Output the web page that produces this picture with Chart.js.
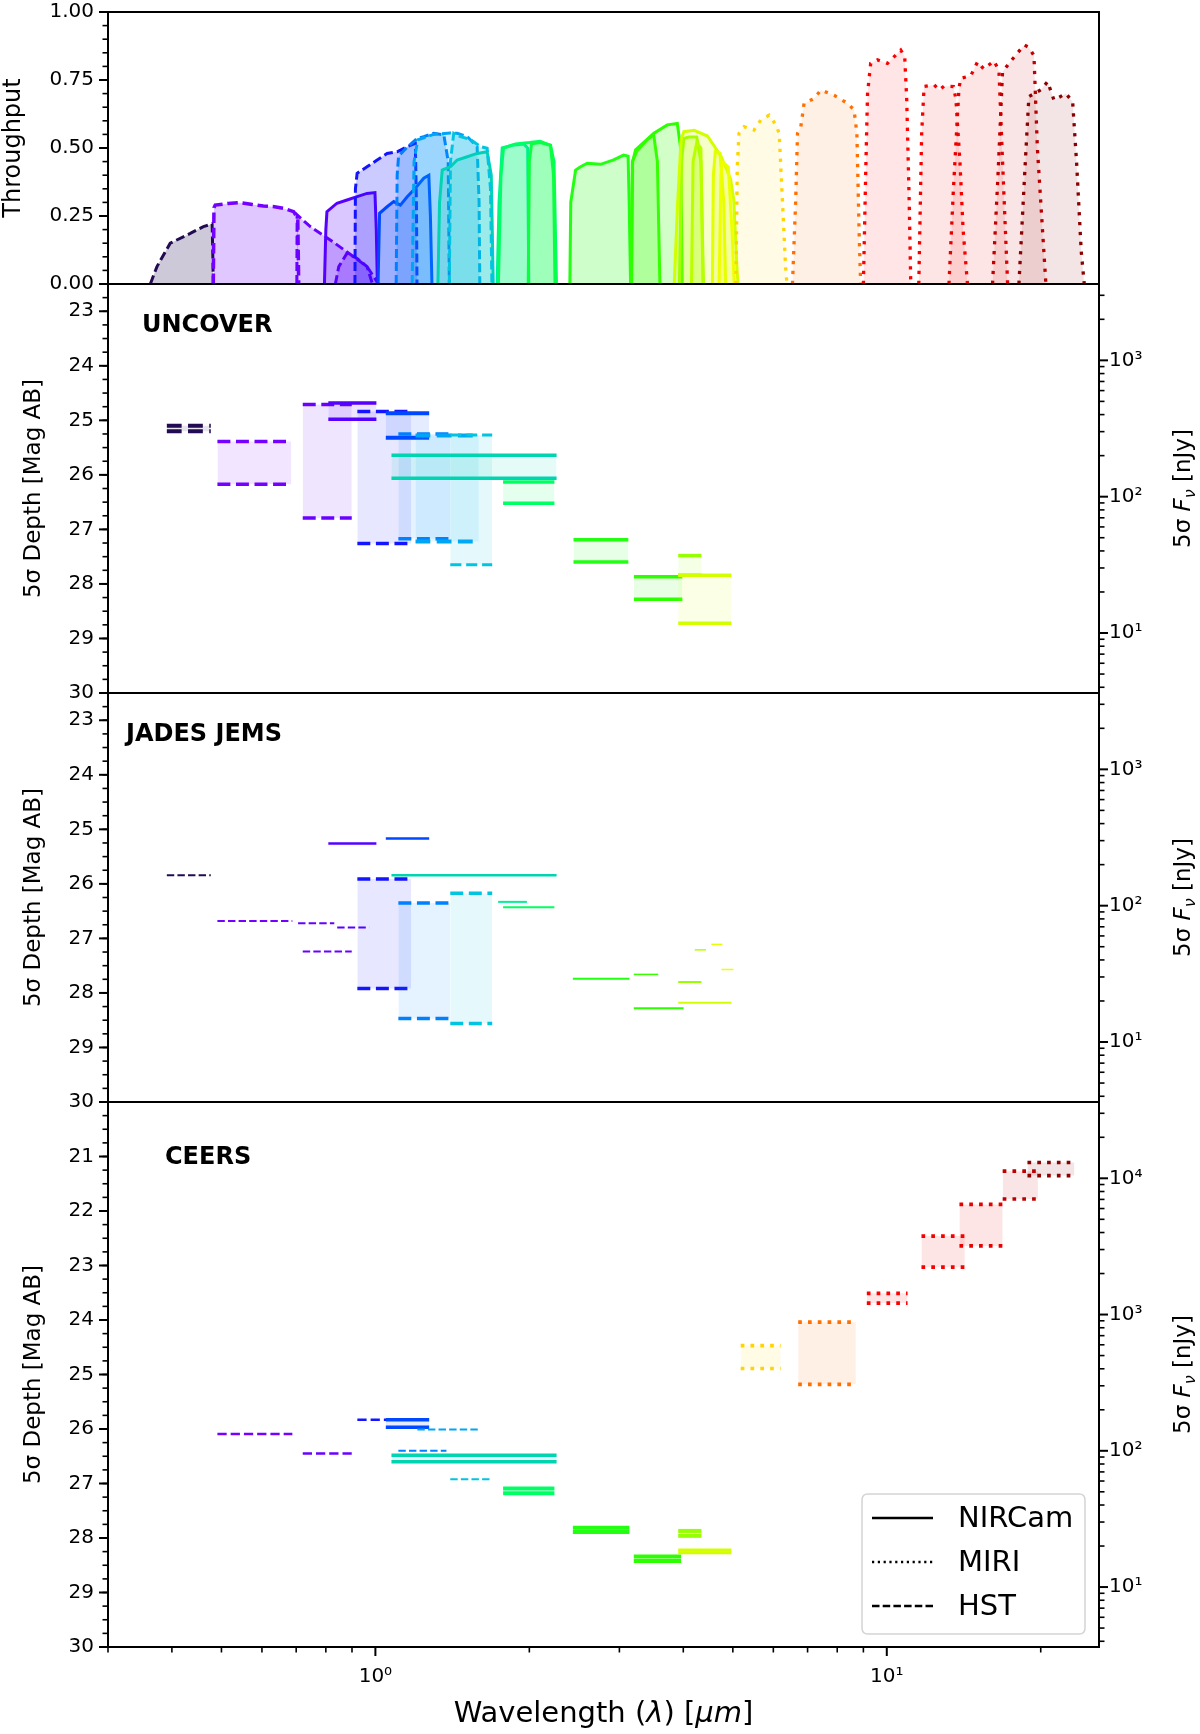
<!DOCTYPE html>
<html><head><meta charset="utf-8">
<script src="https://cdn.jsdelivr.net/npm/chart.js@4.4.1/dist/chart.umd.min.js"></script>
<style>
html,body{margin:0;padding:0;background:#fff;width:1200px;height:1734px;overflow:hidden;position:relative}
canvas{position:absolute;left:0}
</style></head><body>
<canvas id="c1" width="1200" height="340" style="top:-20px;width:1200px;height:340px"></canvas>
<canvas id="c2" width="1200" height="480" style="top:250px;width:1200px;height:480px"></canvas>
<canvas id="c3" width="1200" height="480" style="top:659px;width:1200px;height:480px"></canvas>
<canvas id="c4" width="1200" height="666" style="top:1068px;width:1200px;height:666px"></canvas>
<script>
// ---------------- DATA ----------------
const WAVE_MIN = 0.3, WAVE_MAX = 26;
const ZP_NJY = 31.4;
const MAG_BOTTOM = 30;

// throughput curves: [wavelength (um), throughput]
const thr_F435W = [[0.363,0],[0.374,0.064],[0.397,0.15],[0.4345,0.186],[0.461,0.211],[0.4795,0.221],[0.481,0.1],[0.482,0]];
const thr_F606W = [[0.482,0],[0.4834,0.28],[0.4862,0.29],[0.515,0.296],[0.544,0.299],[0.575,0.292],[0.604,0.287],[0.635,0.284],[0.661,0.278],[0.692,0.266],[0.705,0.24],[0.708,0]];
const thr_F814W = [[0.702,0],[0.703,0.254],[0.746,0.211],[0.816,0.162],[0.907,0.10],[0.963,0.064],[1.014,0]];
const thr_F850LP = [[0.835,0],[0.848,0.064],[0.88,0.113],[0.921,0.094],[0.963,0.064],[0.987,0]];
const thr_F090W = [[0.795,0],[0.80,0.2],[0.804,0.266],[0.841,0.297],[0.88,0.309],[0.921,0.321],[0.963,0.333],[0.998,0.336],[1.004,0.2],[1.009,0]];
const thr_F105W = [[0.912,0],[0.914,0.35],[0.921,0.407],[0.963,0.431],[1.008,0.456],[1.054,0.48],[1.103,0.486],[1.154,0.505],[1.197,0.517],[1.203,0.3],[1.206,0]];
const thr_F115W = [[1.012,0],[1.019,0.26],[1.054,0.284],[1.086,0.303],[1.119,0.29],[1.154,0.321],[1.197,0.352],[1.243,0.389],[1.272,0.40],[1.281,0.25],[1.29,0]];
const thr_F125W = [[1.098,0],[1.103,0.4],[1.11,0.47],[1.15,0.5],[1.206,0.535],[1.243,0.542],[1.30,0.554],[1.361,0.548],[1.388,0.45],[1.395,0]];
const thr_F140W = [[1.18,0],[1.19,0.45],[1.21,0.53],[1.30,0.55],[1.40,0.555],[1.445,0.554],[1.512,0.542],[1.581,0.505],[1.595,0.3],[1.60,0]];
const thr_F150W = [[1.325,0],[1.335,0.3],[1.351,0.419],[1.402,0.431],[1.445,0.456],[1.512,0.468],[1.581,0.48],[1.654,0.486],[1.685,0.4],[1.70,0]];
const thr_F160W = [[1.395,0],[1.402,0.45],[1.423,0.554],[1.467,0.542],[1.534,0.531],[1.605,0.505],[1.654,0.499],[1.679,0.35],[1.69,0]];
const thr_F182M = [[1.73,0],[1.745,0.3],[1.77,0.5],[1.85,0.51],[1.95,0.515],[1.985,0.5],[1.995,0]];
const thr_F200W = [[1.74,0],[1.76,0.4],[1.78,0.5],[1.88,0.515],[2.0,0.52],[2.1,0.525],[2.2,0.51],[2.235,0.45],[2.26,0]];
const thr_F210M = [[1.99,0],[2.0,0.45],[2.02,0.516],[2.1,0.52],[2.2,0.51],[2.23,0.4],[2.245,0]];
const thr_F277W = [[2.40,0],[2.41,0.3],[2.463,0.419],[2.519,0.431],[2.596,0.444],[2.756,0.44],[2.923,0.456],[3.057,0.474],[3.12,0.47],[3.135,0.3],[3.155,0]];
const thr_F335M = [[3.16,0],[3.18,0.45],[3.25,0.49],[3.4,0.53],[3.5,0.55],[3.56,0.45],[3.6,0]];
const thr_F356W = [[3.17,0],[3.184,0.45],[3.227,0.493],[3.504,0.554],[3.722,0.585],[3.894,0.59],[3.953,0.5],[3.982,0]];
const thr_F410M = [[3.93,0],[3.97,0.45],[4.01,0.535],[4.1,0.54],[4.25,0.54],[4.33,0.45],[4.38,0]];
const thr_F430M = [[4.15,0],[4.18,0.45],[4.25,0.52],[4.33,0.5],[4.37,0]];
const thr_F444W = [[3.84,0],[3.9,0.3],[3.96,0.53],[4.01,0.56],[4.20,0.565],[4.46,0.544],[4.74,0.47],[4.95,0.385],[5.02,0.31],[5.10,0.04],[5.12,0]];
const thr_F460M = [[4.56,0],[4.58,0.4],[4.62,0.486],[4.72,0.48],[4.80,0.3],[4.84,0]];
const thr_F480M = [[4.70,0],[4.74,0.4],[4.77,0.45],[4.90,0.43],[4.98,0.2],[5.03,0]];
const thr_F560W = [[5.07,0],[5.10,0.43],[5.14,0.554],[5.26,0.578],[5.50,0.566],[5.67,0.603],[5.89,0.621],[6.07,0.585],[6.16,0.554],[6.25,0.309],[6.34,0.064],[6.38,0]];
const thr_F770W = [[6.54,0],[6.636,0.309],[6.69,0.554],[6.79,0.578],[6.89,0.664],[7.21,0.682],[7.43,0.713],[7.89,0.694],[8.38,0.664],[8.63,0.640],[8.74,0.554],[8.83,0.186],[8.89,0]];
const thr_F1000W = [[9.00,0],[9.10,0.431],[9.17,0.701],[9.30,0.811],[9.59,0.824],[10.03,0.811],[10.65,0.86],[10.84,0.836],[10.94,0.676],[11.06,0.309],[11.14,0]];
const thr_F1280W = [[11.55,0],[11.70,0.554],[11.83,0.726],[12.38,0.732],[12.66,0.713],[12.95,0.728],[13.50,0.726],[13.65,0.68],[13.9,0.45],[14.1,0.2],[14.38,0]];
const thr_F1500W = [[13.23,0],[13.5,0.35],[13.84,0.72],[13.96,0.756],[14.6,0.766],[15.05,0.817],[15.48,0.79],[16.2,0.82],[16.57,0.785],[16.8,0.5],[17.23,0]];
const thr_F1800W = [[16.1,0],[16.5,0.4],[16.84,0.78],[17.49,0.82],[18.57,0.879],[18.96,0.87],[19.4,0.84],[19.7,0.5],[20.47,0]];
const thr_F2100W = [[18.13,0],[18.6,0.4],[18.96,0.689],[20.01,0.714],[20.63,0.744],[21.23,0.676],[22.4,0.70],[23.09,0.67],[23.5,0.45],[24.0,0.12],[24.33,0]];

const throughputFilters = ['F435W','F606W','F814W','F850LP','F090W','F105W','F115W','F125W','F140W','F150W','F160W','F182M','F200W','F210M','F277W','F335M','F356W','F410M','F430M','F444W','F460M','F480M','F560W','F770W','F1000W','F1280W','F1500W','F1800W','F2100W'];
const throughputCurves = {F435W:thr_F435W,F606W:thr_F606W,F814W:thr_F814W,F850LP:thr_F850LP,F090W:thr_F090W,F105W:thr_F105W,F115W:thr_F115W,F125W:thr_F125W,F140W:thr_F140W,F150W:thr_F150W,F160W:thr_F160W,F182M:thr_F182M,F200W:thr_F200W,F210M:thr_F210M,F277W:thr_F277W,F335M:thr_F335M,F356W:thr_F356W,F410M:thr_F410M,F430M:thr_F430M,F444W:thr_F444W,F460M:thr_F460M,F480M:thr_F480M,F560W:thr_F560W,F770W:thr_F770W,F1000W:thr_F1000W,F1280W:thr_F1280W,F1500W:thr_F1500W,F1800W:thr_F1800W,F2100W:thr_F2100W};

// UNCOVER depths
const uncoverFilters = ['F435W','F606W','F814W','F090W','F105W','F115W','F125W','F140W','F160W','F150W','F200W','F277W','F356W','F410M','F444W'];
const uncoverLo = [0.391,0.491,0.721,0.809,0.922,1.048,1.109,1.198,1.401,1.075,1.777,2.44,3.203,3.91,3.91];
const uncoverHi = [0.4765,0.685,0.899,1.0045,1.175,1.274,1.401,1.593,1.692,2.261,2.239,3.123,3.983,4.34,4.966];
const uncoverDepth1 = [25.10,25.39,24.71,24.68,24.84,24.87,25.25,25.28,25.27,25.64,26.13,27.19,27.87,27.48,27.84];
const uncoverDepth2 = [25.20,26.17,26.79,24.98,27.26,25.32,27.17,27.22,27.65,26.06,26.52,27.60,28.28,27.84,28.72];

// JADES JEMS depths
const jadesFilters = ['F435W','F606W','F775W','F814W','F850LP','F090W','F105W','F115W','F125W','F160W','F150W','F182M','F200W','F277W','F335M','F356W','F410M','F430M','F444W','F460M','F480M'];
const jadesLo = [0.391,0.491,0.706,0.721,0.842,0.809,0.922,1.048,1.109,1.401,1.075,1.738,1.777,2.433,3.201,3.201,3.91,4.212,3.91,4.539,4.748];
const jadesHi = [0.4765,0.688,0.831,0.899,0.972,1.0045,1.175,1.274,1.401,1.692,2.261,1.978,2.239,3.138,3.573,4.006,4.34,4.429,4.966,4.77,5.014];
const jadesDepth1 = [25.84,26.68,26.72,27.24,26.80,25.26,25.91,25.17,26.35,26.17,25.84,26.33,26.43,27.74,27.66,28.28,27.80,27.21,28.18,27.11,27.57];
const jadesDepth2 = [null,null,null,null,null,null,27.92,null,28.47,28.56,null,null,null,null,null,null,null,null,null,null,null];

// CEERS depths
const ceersFilters = ['F606W','F814W','F105W','F115W','F125W','F140W','F150W','F160W','F200W','F277W','F356W','F410M','F444W','F560W','F770W','F1000W','F1280W','F1500W','F1800W','F2100W'];
const ceersLo = [0.491,0.721,0.922,1.048,1.109,1.208,1.075,1.401,1.777,2.433,3.201,3.91,3.91,5.18,6.71,9.14,11.69,13.87,16.85,18.84];
const ceersHi = [0.688,0.899,1.199,1.274,1.377,1.593,2.261,1.692,2.239,3.138,3.96,4.34,4.966,6.20,8.70,10.98,14.21,16.85,19.75,23.28];
const ceersDepth1 = [26.09,26.45,25.83,25.83,26.40,26.01,26.48,26.92,27.09,27.81,28.34,27.87,28.22,24.47,24.04,23.51,22.46,21.88,21.27,21.11];
const ceersDepth2 = [null,null,null,25.97,null,null,26.60,null,27.18,27.89,28.42,27.96,28.27,24.89,25.18,23.69,23.03,22.64,21.78,21.35];

// tick values / labels
const throughputTicks = [0, 0.25, 0.5, 0.75, 1.0];
const magTicksShallow = [23,24,25,26,27,28,29,30];
const magTicksCeers = [21,22,23,24,25,26,27,28,29,30];
const fluxTicks = [10,100,1000,10000];
const waveTicks = [1,10];
const panelTitles = ['UNCOVER','JADES JEMS','CEERS'];
const legendLabels = ['NIRCam','MIRI','HST'];

// ---------------- STYLE ----------------
const HST_SET = ['F435W','F606W','F775W','F814W','F850LP','F105W','F125W','F140W','F160W'];
const MIRI_SET = ['F560W','F770W','F1000W','F1280W','F1500W','F1800W','F2100W'];
const filterColor = {
 F435W:'#220b52', F606W:'#7400ff', F775W:'#6600ff', F814W:'#6a00ff', F850LP:'#5a00ff',
 F090W:'#5600ff', F105W:'#1414ff', F115W:'#0048ff', F125W:'#0080ff', F140W:'#00a6f5',
 F160W:'#00c4e0', F150W:'#00d4b0', F182M:'#00ee96', F200W:'#00ff64', F210M:'#0aff40',
 F277W:'#22ff10', F335M:'#38ff00', F356W:'#2cff00', F410M:'#96ff00', F430M:'#b4ff00',
 F444W:'#d2ff00', F460M:'#e4ff00', F480M:'#f0ff00', F560W:'#ffd400', F770W:'#ff7000',
 F1000W:'#ff0000', F1280W:'#f80000', F1500W:'#e80000', F1800W:'#c00000', F2100W:'#8b0000'
};
const uncoverWidths = [4,3.5,3.5,3.5,3.5,4,3.5,4,3,3.5,3.5,3.5,3.5,3.5,3.5];
const jadesWidths = [2,2,2,2,2,2.5,3.5,2.5,3.5,3.5,2.5,2,2,2,1.5,2,2,1.5,2,1.5,1.5];
const ceersWidths = [2.5,2.5,2.5,3.5,2,2,3.5,2,4,4,4,4,3,3.7,3.7,3.7,3.7,3.7,3.7,3.7];

const FONT = 'DejaVu Sans';
Chart.defaults.font.family = FONT;
Chart.defaults.color = '#000';

function instrumentOf(f){ return HST_SET.includes(f) ? 'HST' : (MIRI_SET.includes(f) ? 'MIRI' : 'NIRCam'); }
function dashFor(inst, lw){
  if (inst === 'HST') return [3.7*lw, 1.6*lw];
  if (inst === 'MIRI') return [lw, 1.65*lw];
  return [];
}
function rgba(hex, a){
  const n = parseInt(hex.slice(1),16);
  return `rgba(${(n>>16)&255},${(n>>8)&255},${n&255},${a})`;
}
function magToFlux(m){ return Math.pow(10, (ZP_NJY - m)/2.5); }
const SUP = {'0':'\u2070','1':'\u00b9','2':'\u00b2','3':'\u00b3','4':'\u2074','5':'\u2075','-':'\u207b'};
function powLabel(v){ const e = Math.round(Math.log10(v)); return '10' + String(e).split('').map(c=>SUP[c]).join(''); }
function logMinor(min, max){
  const out = [];
  for (let d = Math.floor(Math.log10(min)); d <= Math.ceil(Math.log10(max)); d++)
    for (let k = 2; k <= 9; k++){ const v = k*Math.pow(10,d); if (v >= min*0.999 && v <= max*1.001) out.push(v); }
  return out;
}
function steps(a, b, s){ const out=[]; for (let v=a; v<=b+1e-9; v+=s) out.push(+v.toFixed(4)); return out; }

function drawRich(ctx, parts, cx, cy, rot, baseOff){
  ctx.save(); ctx.translate(cx, cy); ctx.rotate(rot);
  let total = 0;
  parts.forEach(p => { ctx.font = p.f; p.w = ctx.measureText(p.t).width; total += p.w; });
  let x = -total/2;
  ctx.fillStyle = '#000'; ctx.textBaseline = 'alphabetic'; ctx.textAlign = 'left';
  parts.forEach(p => { ctx.font = p.f; ctx.fillText(p.t, x, baseOff + (p.dy||0)); x += p.w; });
  ctx.restore();
}

function decorPlugin(cfg){
  return {
    id: 'decor',
    afterDraw(chart){
      const ctx = chart.ctx, a = chart.chartArea;
      const sx = chart.scales.x, sy = chart.scales.y, sr = chart.scales.yR;
      ctx.save();
      ctx.strokeStyle = '#000'; ctx.lineCap = 'butt';
      const seg = (x1,y1,x2,y2,w) => { ctx.lineWidth=w; ctx.beginPath(); ctx.moveTo(x1,y1); ctx.lineTo(x2,y2); ctx.stroke(); };
      cfg.leftMinor.forEach(v => { const p = sy.getPixelForValue(v); seg(a.left,p,a.left-5.5,p,1.6); });
      cfg.leftMajor.forEach(v => { const p = sy.getPixelForValue(v); seg(a.left,p,a.left-9,p,2); });
      if (sr){
        cfg.rightMinor.forEach(v => { const p = sr.getPixelForValue(v); seg(a.right,p,a.right+5.5,p,1.6); });
        cfg.rightMajor.forEach(v => { const p = sr.getPixelForValue(v); seg(a.right,p,a.right+9,p,2); });
      }
      if (cfg.bottomMajor){
        cfg.bottomMinor.forEach(v => { const p = sx.getPixelForValue(v); seg(p,a.bottom,p,a.bottom+5.5,1.6); });
        cfg.bottomMajor.forEach(v => { const p = sx.getPixelForValue(v); seg(p,a.bottom,p,a.bottom+9,2); });
      }
      ctx.lineWidth = 2;
      ctx.strokeRect(a.left, a.top, a.right-a.left, a.bottom-a.top);
      const cyMid = (a.top + a.bottom)/2;
      if (cfg.leftTitle) drawRich(ctx, cfg.leftTitle, cfg.leftTitleX, cyMid, -Math.PI/2, 0);
      if (cfg.rightTitle) drawRich(ctx, cfg.rightTitle, cfg.rightTitleX, cyMid, -Math.PI/2, 0);
      if (cfg.panelTitle){
        ctx.font = 'bold 24px ' + FONT; ctx.fillStyle = '#000'; ctx.textBaseline='alphabetic'; ctx.textAlign='left';
        ctx.fillText(cfg.panelTitle, a.left + cfg.titleDx, a.top + cfg.titleDy);
      }
      if (cfg.xTitle) drawRich(ctx, cfg.xTitle, (a.left+a.right)/2, cfg.xTitleY, 0, 0);
      if (cfg.legend){
        const L = cfg.legend;
        const x0 = L.x, y0 = L.y, w = L.w, h = L.h, r = 6;
        ctx.beginPath();
        ctx.moveTo(x0+r,y0); ctx.lineTo(x0+w-r,y0); ctx.quadraticCurveTo(x0+w,y0,x0+w,y0+r);
        ctx.lineTo(x0+w,y0+h-r); ctx.quadraticCurveTo(x0+w,y0+h,x0+w-r,y0+h);
        ctx.lineTo(x0+r,y0+h); ctx.quadraticCurveTo(x0,y0+h,x0,y0+h-r);
        ctx.lineTo(x0,y0+r); ctx.quadraticCurveTo(x0,y0,x0+r,y0); ctx.closePath();
        ctx.fillStyle = 'rgba(255,255,255,0.85)'; ctx.fill();
        ctx.strokeStyle = '#d4d4d4'; ctx.lineWidth = 1.5; ctx.stroke();
        const dashes = [[], [2.2,3.6], [7.5,3.2]];
        legendLabels.forEach((lab,i) => {
          const yy = y0 + 24 + i*44;
          ctx.strokeStyle = '#000'; ctx.lineWidth = 2.4; ctx.setLineDash(dashes[i]);
          ctx.beginPath(); ctx.moveTo(x0+10, yy); ctx.lineTo(x0+71, yy); ctx.stroke();
          ctx.setLineDash([]);
          ctx.fillStyle = '#000'; ctx.font = '29px ' + FONT; ctx.textBaseline = 'middle'; ctx.textAlign='left';
          ctx.fillText(lab, x0+96, yy+1);
        });
      }
      ctx.restore();
    }
  };
}

const commonOpts = {
  responsive: false, animation: false, events: [],
  plugins: { legend: {display:false}, tooltip: {enabled:false}, title:{display:false} },
};
function xScale(display){
  return {
    type:'logarithmic', min: WAVE_MIN, max: WAVE_MAX, bounds:'data', display: display,
    grid:{display:false, drawTicks:false}, border:{display:false},
    afterBuildTicks: s => { s.ticks = waveTicks.map(v=>({value:v})); },
    afterFit: s => { if (display) s.height = 87; },
    ticks:{ autoSkip:false, maxRotation:0, padding:18, font:{size:20, family:FONT}, color:'#000', callback: v => powLabel(v) }
  };
}

// ---------------- PANEL 1: throughput ----------------
(function(){
  const datasets = throughputFilters.map((f,i) => {
    const inst = instrumentOf(f);
    const lw = inst==='MIRI' ? 3.3 : (f==='F606W' ? 3.5 : 3);
    const dash = inst==='HST' ? [3*lw, 1.35*lw] : (inst==='MIRI' ? [lw, 2*lw] : []);
    return {
      type:'line', label:f,
      data: throughputCurves[f].map(p => ({x:p[0], y:p[1]})),
      borderColor: filterColor[f], borderWidth: lw, borderDash: dash,
      backgroundColor: rgba(filterColor[f], inst==='MIRI' ? 0.1 : 0.22),
      fill: 'origin', pointRadius: 0, tension: 0, order: -i
    };
  });
  new Chart(document.getElementById('c1'), {
    type:'line', data:{datasets},
    options: Object.assign({}, commonOpts, {
      layout:{ padding:{top:32, bottom:36, left:0, right:101} },
      scales:{
        x: xScale(false),
        y: { type:'linear', position:'left', min:0, max:1, bounds:'data',
             grid:{display:false, drawTicks:false}, border:{display:false},
             afterBuildTicks: s => { s.ticks = throughputTicks.map(v=>({value:v})); },
             afterFit: s => { s.width = 108; },
             ticks:{ autoSkip:false, padding:14, font:{size:20, family:FONT}, color:'#000', callback: v => Number(v).toFixed(2) } }
      }
    }),
    plugins:[ decorPlugin({
      leftMajor: throughputTicks, leftMinor: steps(0,1,0.05),
      leftTitle: [{t:'Throughput', f:'24px '+FONT}], leftTitleX: 20
    }) ]
  });
})();

// ---------------- DEPTH PANELS ----------------
function depthDatasets(filters, lo, hi, d1, d2, widths){
  const ds = [];
  filters.forEach((f,i) => {
    const col = filterColor[f], inst = instrumentOf(f), lw = widths[i];
    const base = { type:'line', borderColor: col, borderWidth: lw, borderDash: dashFor(inst, lw),
                   pointRadius: 0, tension: 0 };
    const ia = ds.length;
    ds.push(Object.assign({}, base, {
      data: [{x:lo[i], y:d1[i]}, {x:hi[i], y:d1[i]}],
      fill: d2[i] != null ? ia+1 : false, backgroundColor: rgba(col, 0.1), order: -ia
    }));
    if (d2[i] != null){
      ds.push(Object.assign({}, base, {
        data: [{x:lo[i], y:d2[i]}, {x:hi[i], y:d2[i]}], fill:false, order: -(ia+1)
      }));
    }
  });
  return ds;
}

function depthChart(id, magTop, magTicks, filters, lo, hi, d1, d2, widths, title, tdx, tdy, isBottom){
  const fmin = magToFlux(MAG_BOTTOM), fmax = magToFlux(magTop);
  const rMaj = fluxTicks.filter(v => v >= fmin && v <= fmax);
  const cfg = {
    leftMajor: magTicks, leftMinor: steps(magTop, MAG_BOTTOM, 0.25),
    rightMajor: rMaj, rightMinor: logMinor(fmin, fmax),
    leftTitle: [{t:'5\u03c3 Depth [Mag AB]', f:'23px '+FONT}], leftTitleX: 40,
    rightTitle: [{t:'5\u03c3 ', f:'23px '+FONT},{t:'F', f:'italic 23px '+FONT},{t:'\u03bd', f:'italic 16px '+FONT, dy:5},{t:' [nJy]', f:'23px '+FONT}],
    rightTitleX: 1190,
    panelTitle: title, titleDx: tdx, titleDy: tdy
  };
  if (isBottom){
    cfg.bottomMajor = waveTicks;
    cfg.bottomMinor = logMinor(WAVE_MIN, WAVE_MAX).filter(v => waveTicks.indexOf(v) < 0);
    cfg.xTitle = [{t:'Wavelength (', f:'29px '+FONT},{t:'\u03bb', f:'italic 29px '+FONT},{t:') [', f:'29px '+FONT},{t:'\u03bcm', f:'italic 29px '+FONT},{t:']', f:'29px '+FONT}];
    cfg.xTitleY = 1722 - 1068;
    cfg.legend = { x:862, y:1494-1068, w:223, h:140 };
  }
  new Chart(document.getElementById(id), {
    type:'line',
    data:{ datasets: depthDatasets(filters, lo, hi, d1, d2, widths) },
    options: Object.assign({}, commonOpts, {
      layout:{ padding:{top:34, bottom: isBottom ? 0 : 37, left:0, right:0} },
      scales:{
        x: xScale(isBottom),
        y: { type:'linear', position:'left', min: magTop, max: MAG_BOTTOM, reverse:true, bounds:'data',
             grid:{display:false, drawTicks:false}, border:{display:false},
             afterBuildTicks: s => { s.ticks = magTicks.map(v=>({value:v})); },
             afterFit: s => { s.width = 108; },
             ticks:{ autoSkip:false, padding:14, font:{size:20, family:FONT}, color:'#000', callback: v => String(v) } },
        yR:{ type:'logarithmic', position:'right', min: fmin, max: fmax, bounds:'data',
             grid:{display:false, drawTicks:false}, border:{display:false},
             afterBuildTicks: s => { s.ticks = rMaj.map(v=>({value:v})); },
             afterFit: s => { s.width = 101; },
             ticks:{ autoSkip:false, padding:10, font:{size:20, family:FONT}, color:'#000', callback: v => powLabel(v) } }
      }
    }),
    plugins:[ decorPlugin(cfg) ]
  });
}

depthChart('c2', 22.5, magTicksShallow, uncoverFilters, uncoverLo, uncoverHi, uncoverDepth1, uncoverDepth2, uncoverWidths, panelTitles[0], 34, 48, false);
depthChart('c3', 22.5, magTicksShallow, jadesFilters, jadesLo, jadesHi, jadesDepth1, jadesDepth2, jadesWidths, panelTitles[1], 18, 48, false);
depthChart('c4', 20, magTicksCeers, ceersFilters, ceersLo, ceersHi, ceersDepth1, ceersDepth2, ceersWidths, panelTitles[2], 57, 62, true);
</script>
</body></html>
